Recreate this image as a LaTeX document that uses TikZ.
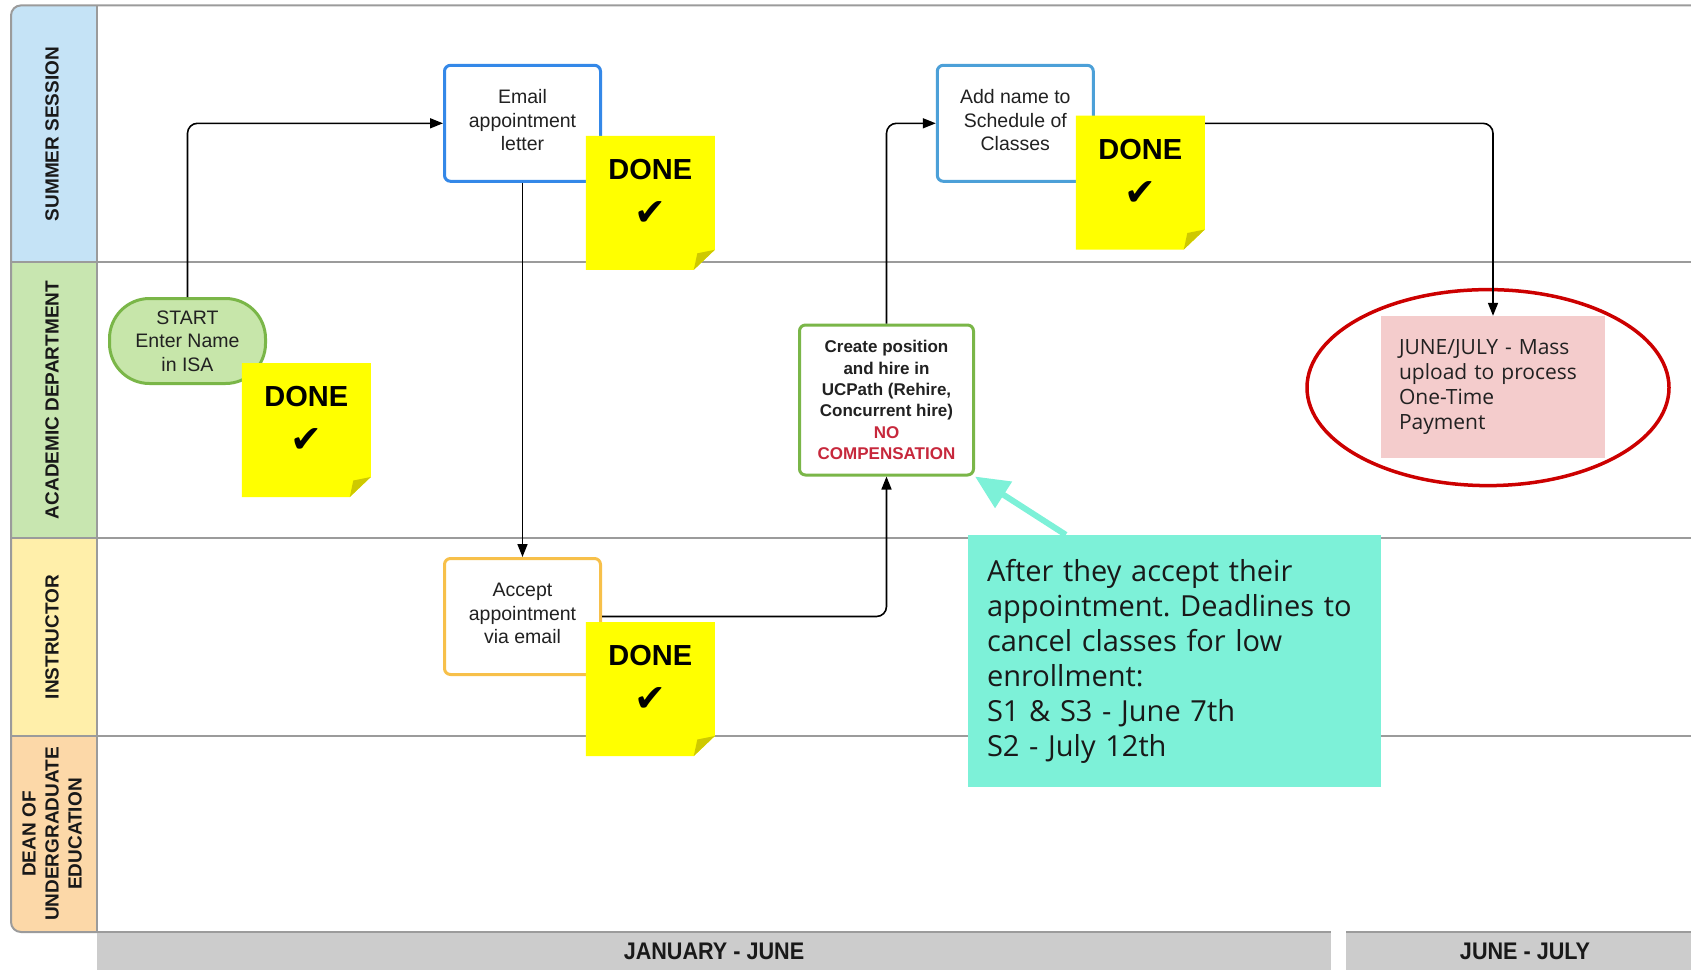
\documentclass[tikz,border=0pt]{standalone}
\usepackage{fontspec}
\setmainfont{Liberation Sans}
\newfontfamily\notefont{Open Sans}
\newfontfamily\symfont{DejaVu Sans}
\usetikzlibrary{arrows.meta,calc,shapes.geometric}
\frenchspacing

\definecolor{laneSummer}{RGB}{197,227,246}
\definecolor{laneAcad}{RGB}{200,230,176}
\definecolor{laneInstr}{RGB}{255,239,170}
\definecolor{laneDean}{RGB}{252,216,168}
\definecolor{frameGray}{RGB}{155,155,155}
\definecolor{barGray}{RGB}{204,204,204}
\definecolor{boxBlue}{RGB}{52,136,232}
\definecolor{boxSky}{RGB}{76,160,216}
\definecolor{boxGold}{RGB}{247,192,74}
\definecolor{boxGreen}{RGB}{122,182,72}
\definecolor{startFill}{RGB}{199,230,170}
\definecolor{noteYellow}{RGB}{255,255,0}
\definecolor{noteFold}{RGB}{206,201,0}
\definecolor{payPink}{RGB}{244,204,204}
\definecolor{ringRed}{RGB}{204,0,0}
\definecolor{tipTeal}{RGB}{125,241,216}
\definecolor{alertRed}{RGB}{199,40,60}

\tikzset{
  frameline/.style={draw=frameGray, line width=2pt},
  lanelabel/.style={rotate=90, align=center, text=black!90,
    font=\bfseries\fontsize{19}{23}\selectfont},
  task/.style={draw, line width=3pt, rounded corners=6pt, fill=white,
    minimum width=156pt, minimum height=116pt, align=center, text=black!87,
    font=\fontsize{19.5}{23.5}\selectfont},
  raised/.style={execute at end node={\rule[-6pt]{0pt}{0pt}}},
  conn/.style={draw=black, line width=1.6pt, rounded corners=10pt,
    -{Triangle[length=13pt,width=10pt]}},
  sticky/.style={minimum width=129pt, minimum height=134pt, inner sep=0pt,
    path picture={
      \fill[noteYellow] (path picture bounding box.north west)
        -- (path picture bounding box.north east)
        -- ([yshift=20pt]path picture bounding box.south east)
        -- ([xshift=-21pt]path picture bounding box.south east)
        -- (path picture bounding box.south west) -- cycle;
      \fill[noteFold] ([yshift=20pt]path picture bounding box.south east)
        -- ([xshift=-21pt]path picture bounding box.south east)
        -- ([xshift=-17.5pt,yshift=16.5pt]path picture bounding box.south east)
        -- cycle;
    }},
  donetxt/.style={font=\bfseries\fontsize{29}{32}\selectfont, inner sep=0pt},
  donechk/.style={font=\symfont\fontsize{38}{40}\selectfont, inner sep=0pt},
  phase/.style={fill=barGray, minimum height=38pt, inner sep=0pt,
    font=\bfseries\fontsize{24}{26}\selectfont, text=black!90},
}

\newcommand\donenote[2]{%
  \node[sticky] (#1) at (#2) {};
  \node[donetxt] (#1-t) at ([yshift=-34pt]#1.north) {DONE};
  \node[donechk] (#1-c) at ([yshift=-78pt]#1.north) {✔};
}

\begin{document}
\begin{tikzpicture}[x=1pt,y=-1pt]
\useasboundingbox (0,0) rectangle (1691,970);

% swimlane header column
\begin{scope}
  \clip[rounded corners=10pt] (11,5.4) rectangle (140,932);
  \fill[laneSummer] (11,5.4) rectangle (97,262);
  \fill[laneAcad]   (11,262) rectangle (97,538);
  \fill[laneInstr]  (11,538) rectangle (97,735.5);
  \fill[laneDean]   (11,735.5) rectangle (97,932);
\end{scope}

% phase bars along the bottom
\node[phase, minimum width=1234pt] (phaseA) at (714,951) {\scalebox{0.9}[1]{JANUARY - JUNE}};
\node[phase, minimum width=358pt] (phaseB) at (1525,951) {\scalebox{0.9}[1]{JUNE - JULY}};

% lane frame
\draw[frameline, rounded corners=10pt] (1691,5.4) -- (11,5.4) -- (11,932) -- (97,932);
\draw[frameline] (97,5.4) -- (97,932) -- (1691,932);
\draw[frameline] (11,262) -- (1691,262);
\draw[frameline] (11,538) -- (1691,538);
\draw[frameline] (11,735.5) -- (1691,735.5);
\fill[white] (1331,931) rectangle (1346,970);

% lane titles
\node[lanelabel] (lnSummer) at (52,134) {SUMMER SESSION};
\node[lanelabel] (lnAcad) at (52,400) {ACADEMIC DEPARTMENT};
\node[lanelabel] (lnInstr) at (52,637) {INSTRUCTOR};
\node[lanelabel] (lnDean) at (52,834) {DEAN OF\\UNDERGRADUATE\\EDUCATION};

% process steps
\node[task, draw=boxGreen, fill=startFill, rounded corners=40pt,
      minimum height=85pt] (start) at (187.5,341) {START\\Enter Name\\in ISA};
\node[task, raised, draw=boxBlue] (email) at (522.5,123.3) {Email\\appointment\\letter};
\node[task, raised, draw=boxGold] (accept) at (522.5,616.5) {Accept\\appointment\\via email};
\node[task, draw=boxGreen, minimum width=174pt, minimum height=150pt,
      font=\bfseries\fontsize{17}{21.3}\selectfont] (create) at (886.5,400)
      {Create position\\and hire in\\UCPath (Rehire,\\Concurrent hire)\\
       \textcolor{alertRed}{NO}\\\textcolor{alertRed}{COMPENSATION}};
\node[task, raised, draw=boxSky] (addname) at (1015.3,123.3) {Add name to\\Schedule of\\Classes};

% payment step and its highlight ring
\node[draw=ringRed, line width=3.5pt, ellipse, minimum width=362pt,
      minimum height=196pt] (ring) at (1488,387.6) {};
\node[fill=payPink, minimum width=224pt, minimum height=142pt, inner xsep=18pt,
      text width=188pt, align=left, text=black!87,
      font=\notefont\fontsize{21}{24.7}\selectfont] (pay) at (1493,387)
      {JUNE/JULY - Mass\\upload to process\\One-Time\\Payment};

% deadline note
\node[fill=tipTeal, minimum height=252pt, inner xsep=19pt, text width=375pt,
      align=left, text=black!90, font=\notefont\fontsize{29}{35}\selectfont]
      (note) at (1174.5,661)
      {After they accept their\\appointment. Deadlines to\\cancel classes for low\\enrollment:\\S1 \& S3 - June 7th\\S2 - July 12th};

% flow
\draw[conn] (start.north) |- (email.west);
\draw[conn] (email.south) -- (accept.north);
\draw[conn] (accept.east) -| (create.south);
\draw[conn] (create.north) |- (addname.west);
\draw[conn] (addname.east) -| (pay.north);

% pointer from the note
\coordinate (noteTail) at ([xshift=98pt]note.north west);
\draw[draw=tipTeal, line width=6pt, -{Triangle[length=34pt,width=30pt]}]
  (noteTail) -- (create.south east);

% completion stickers
\donenote{d1}{306.3,430}
\donenote{d2}{650.3,202.8}
\donenote{d3}{650.3,689}
\donenote{d4}{1140.3,182.5}
\end{tikzpicture}
\end{document}
